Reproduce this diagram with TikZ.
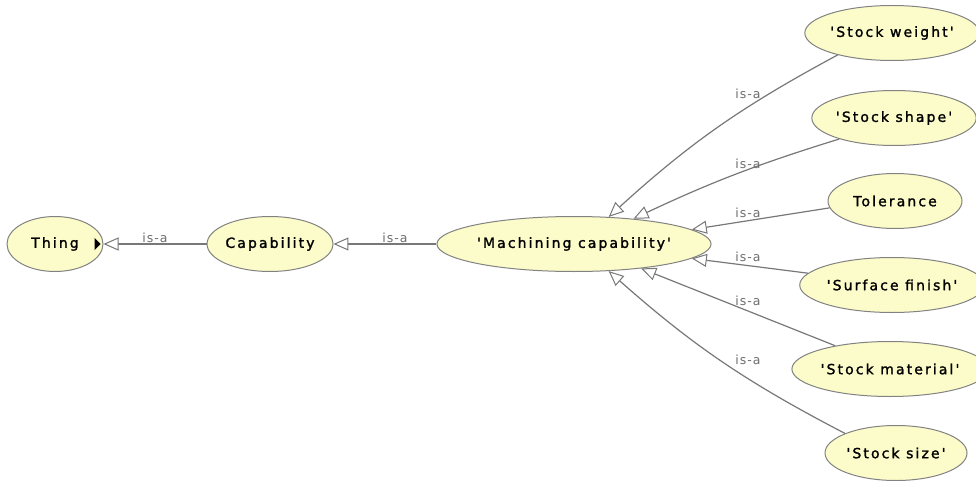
\documentclass[tikz,border=0pt]{standalone}
\usepackage{fontspec}
\setmainfont{DejaVu Sans}[Ligatures=TeXOff]
\usetikzlibrary{shapes.geometric,arrows.meta}
\definecolor{nodefill}{RGB}{252,252,202}
\definecolor{nodeline}{RGB}{130,130,130}
\definecolor{edgeline}{RGB}{120,120,120}
\definecolor{labelgrey}{RGB}{110,110,110}
\tikzset{
  concept/.style={ellipse, draw=nodeline, fill=nodefill, line width=1pt,
    inner sep=0pt, minimum height=55pt,
    font=\fontsize{14}{16}\selectfont\addfontfeature{LetterSpace=15,FakeBold=1.5}},
  isa/.style={draw=edgeline, line width=1.2pt,
    -{Triangle[length=15pt,width=13pt,fill=white,line width=1pt]}},
  isalabel/.style={text=labelgrey, inner sep=0pt,
    font=\fontsize{12.5}{14}\selectfont\addfontfeature{LetterSpace=8}},
}
\begin{document}
\begin{tikzpicture}[x=1pt,y=-1pt]
\useasboundingbox (0,0) rectangle (976,481);
\fill[white] (0,0) rectangle (976,481);

% class nodes
\node[concept, minimum width=96pt]  (thing) at (55,244)  {Thing\hspace{12pt}};
\node[concept, minimum width=118pt] (cap)   at (270,244) {Capability};
\node[concept, minimum width=242pt] (mc)    at (574,244) {'Machining capability'};
\node[concept, minimum width=158pt] (sw)    at (892,33)  {'Stock weight'};
\node[concept, minimum width=156pt] (ss)    at (894,118) {'Stock shape'};
\node[concept, minimum width=134pt] (tol)   at (895,201) {Tolerance};
\node[concept, minimum width=166pt] (sf)    at (892,285) {'Surface finish'};
\node[concept, minimum width=174pt] (sm)    at (890,369) {'Stock material'};
\node[concept, minimum width=142pt] (ssz)   at (896,453) {'Stock size'};

% expand marker inside Thing
\coordinate (mark) at ([xshift=-3pt]thing.east);
\fill[black] (mark) -- ++(-6,-6) -- ++(0,12) -- cycle;

% subclass edges
\draw[isa] (cap) -- (thing);
\draw[isa] (mc) -- (cap);
\draw[isa] (sw.202)  to[bend right=7] (mc.38);
\draw[isa] (ss.201)  to[bend right=4] (mc.23);
\draw[isa] (tol.186) -- (mc.7.5);
\draw[isa] (sf.172)  -- (mc.-7);
\draw[isa] (sm.157)  -- (mc.-20);
\draw[isa] (ssz.159) to[bend left=7] (mc.-38);

% edge labels
\node[isalabel] (l1) at (155,238) {is-a};
\node[isalabel] (l2) at (395,238) {is-a};
\node[isalabel] (l3) at (748,94)  {is-a};
\node[isalabel] (l4) at (748,164) {is-a};
\node[isalabel] (l5) at (748,213) {is-a};
\node[isalabel] (l6) at (748,257) {is-a};
\node[isalabel] (l7) at (748,301) {is-a};
\node[isalabel] (l8) at (748,360) {is-a};
\end{tikzpicture}
\end{document}
